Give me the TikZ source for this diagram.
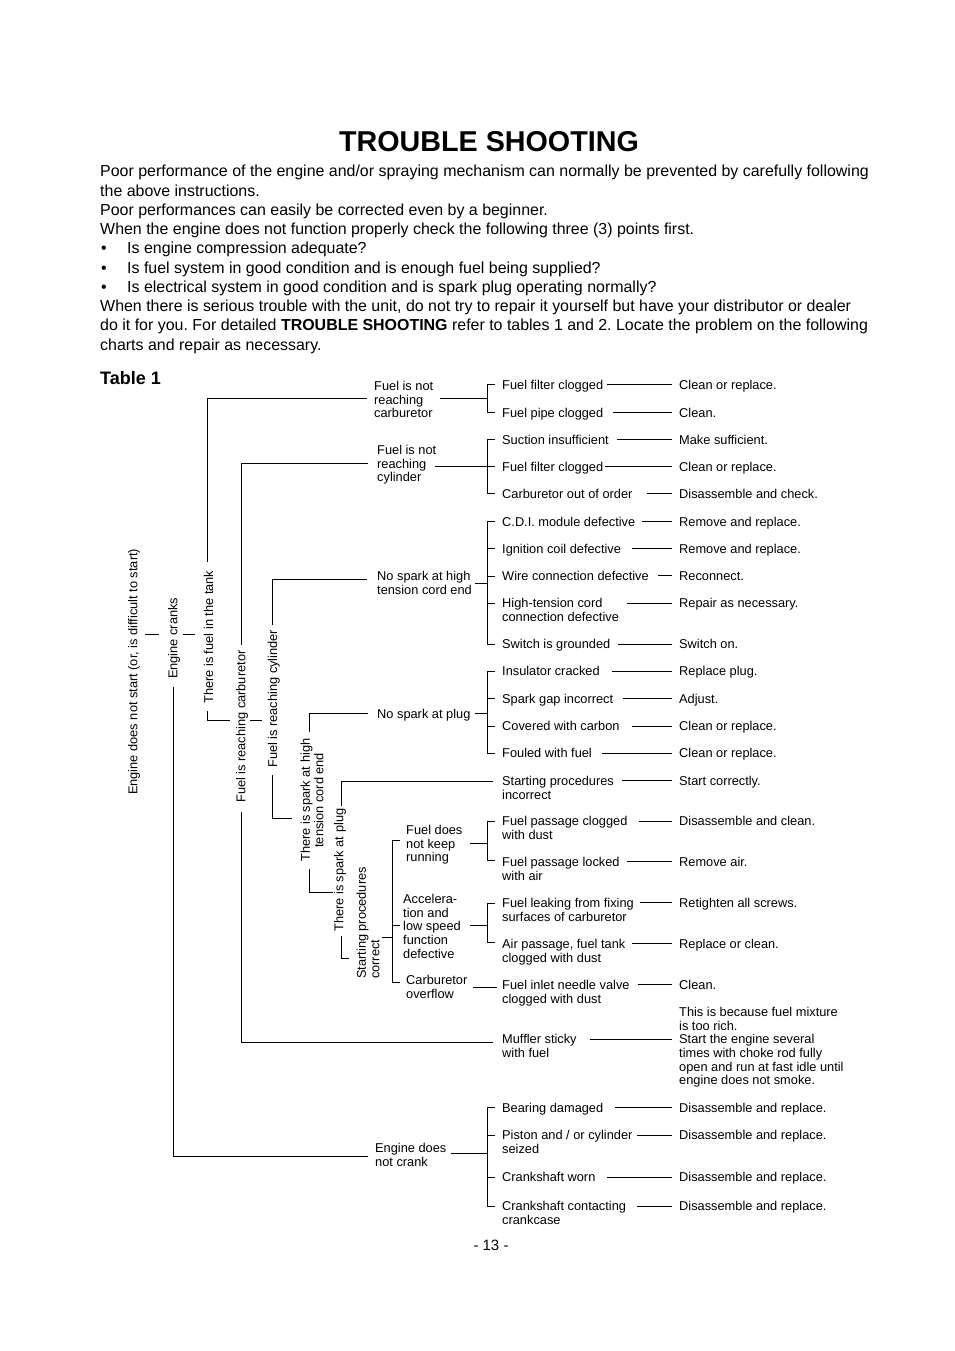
\documentclass[tikz,border=0pt]{standalone}
\usepackage{fontspec}
\setmainfont{Liberation Sans}
\newcommand\dfont{\fontsize{12.8}{13.6}\selectfont}
\newcommand\bfont{\fontsize{15.95}{19}\selectfont}
\begin{document}
\frenchspacing
\begin{tikzpicture}[x=1pt,y=-1pt,
  t/.style={font=\dfont, inner sep=0pt, anchor=north west, align=left, yshift=-1pt},
  rt/.style={font=\dfont, inner sep=0pt, rotate=90, anchor=base west},
  rtm/.style={font=\dfont, inner sep=0pt, rotate=90, anchor=north west},
  body/.style={font=\bfont, inner sep=0pt, anchor=base west, yshift=-1pt},
  ln/.style={line width=0.9pt}]
\fill[white] (0,0) rectangle (954,1351);
\useasboundingbox (0,0) rectangle (954,1351);

% ---------- header ----------
\node[font=\fontsize{28.7}{32}\selectfont\bfseries, inner sep=0pt, anchor=base] (title) at (489,152) {TROUBLE SHOOTING};
\node[body] (p1) at (100,175.5) {Poor performance of the engine and/or spraying mechanism can normally be prevented by carefully following};
\node[body] (p2) at (100,195.5) {the above instructions.};
\node[body] (p3) at (100,214.5) {Poor performances can easily be corrected even by a beginner.};
\node[body] (p4) at (100,233.5) {When the engine does not function properly check the following three (3) points first.};
\node[body] (b1) at (101,252.5) {•};
\node[body] (q1) at (127,252.5) {Is engine compression adequate?};
\node[body] (b2) at (101,272.5) {•};
\node[body] (q2) at (127,272.5) {Is fuel system in good condition and is enough fuel being supplied?};
\node[body] (b3) at (101,291.5) {•};
\node[body] (q3) at (127,291.5) {Is electrical system in good condition and is spark plug operating normally?};
\node[body] (p5) at (100,310.5) {When there is serious trouble with the unit, do not try to repair it yourself but have your distributor or dealer};
\node[body] (p6) at (100,329.5) {do it for you. For detailed \textbf{TROUBLE SHOOTING} refer to tables 1 and 2. Locate the problem on the following};
\node[body] (p7) at (100,349.5) {charts and repair as necessary.};
\node[font=\fontsize{18}{20}\selectfont\bfseries, inner sep=0pt, anchor=base west] (tab) at (100,384.5) {Table 1};
\node[font=\fontsize{15}{18}\selectfont, inner sep=0pt, anchor=base] (pg) at (491,1250.5) {- 13 -};

% ---------- vertical (rotated) conditions ----------
\node[rt] (A) at (137.4,795) {Engine does not start (or, is difficult to start)};
\node[rt] (B) at (177.4,679) {Engine cranks};
\node[rt] (C) at (213.2,704) {There is fuel in the tank};
\node[rt] (D) at (245.4,803) {Fuel is reaching carburetor};
\node[rt] (E) at (277.2,768) {Fuel is reaching cylinder};
\node[rtm, align=center] (G) at (300.4,862) {There is spark at high\\tension cord end};
\node[rt] (H) at (343.4,932) {There is spark at plug};
\node[rtm, align=left] (I) at (356.4,979) {Starting procedures\\correct};

% ---------- middle level ----------
\node[t] (F1) at (374,380.3) {Fuel is not\\reaching\\carburetor};
\node[t] (F2) at (377,444.3) {Fuel is not\\reaching\\cylinder};
\node[t] (F3) at (377,570.3) {No spark at high\\tension cord end};
\node[t] (F4) at (377,708.3) {No spark at plug};
\node[t] (J1) at (406,824.3) {Fuel does\\not keep\\running};
\node[t] (J2) at (403,893.3) {Accelera-\\tion and\\low speed\\function\\defective};
\node[t] (J3) at (406,974.3) {Carburetor\\overflow};
\node[t] (NC) at (375,1142.3) {Engine does\\not crank};

% ---------- causes ----------
\node[t] (c1) at (502,379.3) {Fuel filter clogged};
\node[t] (c2) at (502,407.3) {Fuel pipe clogged};
\node[t] (c3) at (502,434.3) {Suction insufficient};
\node[t] (c4) at (502,461.3) {Fuel filter clogged};
\node[t] (c5) at (502,488.3) {Carburetor out of order};
\node[t] (c6) at (502,516.3) {C.D.I. module defective};
\node[t] (c7) at (502,543.3) {Ignition coil defective};
\node[t] (c8) at (502,570.3) {Wire connection defective};
\node[t] (c9) at (502,597.3) {High-tension cord\\connection defective};
\node[t] (c10) at (502,638.3) {Switch is grounded};
\node[t] (c11) at (502,665.3) {Insulator cracked};
\node[t] (c12) at (502,693.3) {Spark gap incorrect};
\node[t] (c13) at (502,720.3) {Covered with carbon};
\node[t] (c14) at (502,747.3) {Fouled with fuel};
\node[t] (c15) at (502,775.3) {Starting procedures\\incorrect};
\node[t] (c16) at (502,815.3) {Fuel passage clogged\\with dust};
\node[t] (c17) at (502,856.3) {Fuel passage locked\\with air};
\node[t] (c18) at (502,897.3) {Fuel leaking from fixing\\surfaces of carburetor};
\node[t] (c19) at (502,938.3) {Air passage, fuel tank\\clogged with dust};
\node[t] (c20) at (502,979.3) {Fuel inlet needle valve\\clogged with dust};
\node[t] (c21) at (502,1033.3) {Muffler sticky\\with fuel};
\node[t] (c22) at (502,1102.3) {Bearing damaged};
\node[t] (c23) at (502,1129.3) {Piston and / or cylinder\\seized};
\node[t] (c24) at (502,1171.3) {Crankshaft worn};
\node[t] (c25) at (502,1200.3) {Crankshaft contacting\\crankcase};

% ---------- remedies ----------
\node[t] (r1) at (679,379.3) {Clean or replace.};
\node[t] (r2) at (679,407.3) {Clean.};
\node[t] (r3) at (679,434.3) {Make sufficient.};
\node[t] (r4) at (679,461.3) {Clean or replace.};
\node[t] (r5) at (679,488.3) {Disassemble and check.};
\node[t] (r6) at (679,516.3) {Remove and replace.};
\node[t] (r7) at (679,543.3) {Remove and replace.};
\node[t] (r8) at (679,570.3) {Reconnect.};
\node[t] (r9) at (679,597.3) {Repair as necessary.};
\node[t] (r10) at (679,638.3) {Switch on.};
\node[t] (r11) at (679,665.3) {Replace plug.};
\node[t] (r12) at (679,693.3) {Adjust.};
\node[t] (r13) at (679,720.3) {Clean or replace.};
\node[t] (r14) at (679,747.3) {Clean or replace.};
\node[t] (r15) at (679,775.3) {Start correctly.};
\node[t] (r16) at (679,815.3) {Disassemble and clean.};
\node[t] (r17) at (679,856.3) {Remove air.};
\node[t] (r18) at (679,897.3) {Retighten all screws.};
\node[t] (r19) at (679,938.3) {Replace or clean.};
\node[t] (r20) at (679,979.3) {Clean.};
\node[t] (r21) at (679,1006.3) {This is because fuel mixture\\is too rich.\\Start the engine several\\times with choke rod fully\\open and run at fast idle until\\engine does not smoke.};
\node[t] (r22) at (679,1102.3) {Disassemble and replace.};
\node[t] (r23) at (679,1129.3) {Disassemble and replace.};
\node[t] (r24) at (679,1171.3) {Disassemble and replace.};
\node[t] (r25) at (679,1200.3) {Disassemble and replace.};

% ---------- tree connectors (left) ----------
\draw[ln] (145,634) -- (159,634);                       % A - B
\draw[ln] (183,634) -- (195,634);                       % B - C
\draw[ln] (207,562) |- (367,398);                       % C - F1
\draw[ln] (207,711) |- (230,720);                       % C - D
\draw[ln] (250,720) -- (262,720);                       % D - E
\draw[ln] (241,645) |- (368,463);                       % D - F2
\draw[ln] (241,812) |- (493,1042);                      % D - c21
\draw[ln] (173,687) |- (368,1156);                      % B - NC
\draw[ln] (272,625) |- (367,579);                       % E - F3
\draw[ln] (272,775) |- (292,818);                       % E - G
\draw[ln] (309,732) |- (368,713);                       % G - F4
\draw[ln] (309,869) |- (333,892);                       % G - H
\draw[ln] (341,806) |- (493,781);                       % H - c15
\draw[ln] (341,936) |- (349,958);                       % H - I
\draw[ln] (382,937) -- (392,937);                       % I - bracket
\draw[ln] (400,840) -- (392,840) -- (392,982) -- (400,982);
\draw[ln] (392,925) -- (400,925);

% ---------- brackets ----------
\draw[ln] (440,398) -- (487,398);
\draw[ln] (495,384) -- (487,384) -- (487,412) -- (495,412);

\draw[ln] (435,466) -- (487,466);
\draw[ln] (495,439) -- (487,439) -- (487,493) -- (495,493);
\draw[ln] (487,466) -- (495,466);

\draw[ln] (475,583) -- (487,583);
\draw[ln] (495,521) -- (487,521) -- (487,644) -- (495,644);
\foreach \yy in {548,576,603} \draw[ln] (487,\yy) -- (495,\yy);

\draw[ln] (475,713) -- (487,713);
\draw[ln] (495,671) -- (487,671) -- (487,753) -- (495,753);
\foreach \yy in {698,726} \draw[ln] (487,\yy) -- (495,\yy);

\draw[ln] (470,843) -- (487,843);
\draw[ln] (495,821) -- (487,821) -- (487,860) -- (495,860);

\draw[ln] (470,925) -- (487,925);
\draw[ln] (495,903) -- (487,903) -- (487,942) -- (495,942);

\draw[ln] (473,987) -- (497,987);

\draw[ln] (451,1153) -- (487,1153);
\draw[ln] (495,1107) -- (487,1107) -- (487,1206) -- (495,1206);
\foreach \yy in {1135,1177} \draw[ln] (487,\yy) -- (495,\yy);

% ---------- cause -> remedy ----------
\draw[ln] (607,384) -- (672,384);
\draw[ln] (613,412) -- (672,412);
\draw[ln] (617,439) -- (672,439);
\draw[ln] (605,466) -- (672,466);
\draw[ln] (647,493) -- (672,493);
\draw[ln] (642,521) -- (672,521);
\draw[ln] (632,548) -- (672,548);
\draw[ln] (658,575) -- (672,575);
\draw[ln] (627,603) -- (672,603);
\draw[ln] (618,644) -- (672,644);
\draw[ln] (612,671) -- (672,671);
\draw[ln] (623,698) -- (672,698);
\draw[ln] (632,726) -- (672,726);
\draw[ln] (602,753) -- (672,753);
\draw[ln] (622,780) -- (672,780);
\draw[ln] (639,821) -- (672,821);
\draw[ln] (627,861) -- (672,861);
\draw[ln] (640,902) -- (672,902);
\draw[ln] (632,943) -- (672,943);
\draw[ln] (638,984) -- (672,984);
\draw[ln] (590,1039) -- (672,1039);
\draw[ln] (615,1107) -- (672,1107);
\draw[ln] (637,1135) -- (672,1135);
\draw[ln] (607,1177) -- (672,1177);
\draw[ln] (637,1206) -- (672,1206);
\end{tikzpicture}
\end{document}
